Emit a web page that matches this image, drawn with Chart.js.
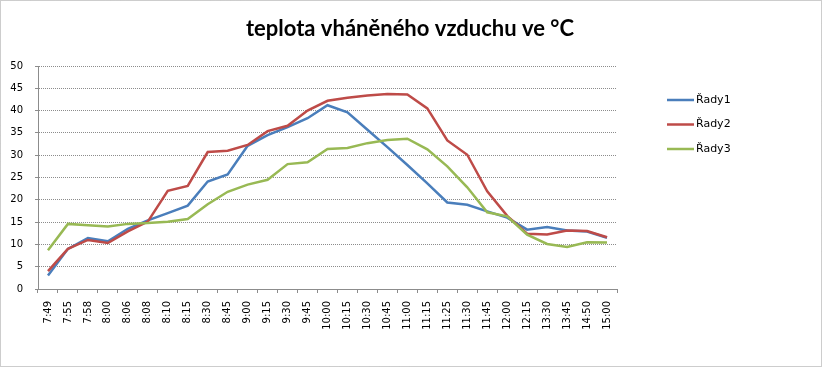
<!DOCTYPE html>
<html>
<head>
<meta charset="utf-8">
<script src="https://cdn.jsdelivr.net/npm/chart.js@4/dist/chart.umd.min.js"></script>
<style>
  html, body { margin: 0; padding: 0; background: #fff; }
  canvas { display: block; }
</style>
</head>
<body>
<canvas id="graf" width="822" height="367"></canvas>
<script>
const casy = ['7:49', '7:55', '7:58', '8:00', '8:06', '8:08', '8:10', '8:15', '8:30', '8:45',
    '9:00', '9:15', '9:30', '9:45', '10:00', '10:15', '10:30', '10:45', '11:00', '11:15',
    '11:25', '11:30', '11:45', '12:00', '12:15', '13:30', '13:45', '14:50', '15:00'];

const rady1 = [3.0, 9.0, 11.4, 10.7, 13.5, 15.4, 17.0, 18.7, 24.1, 25.7,
    32.1, 34.5, 36.3, 38.3, 41.2, 39.6, 35.7, 31.8, 27.8, 23.7,
    19.4, 18.9, 17.4, 16.0, 13.3, 13.9, 13.1, 12.9, 11.5];
const rady2 = [4.0, 9.0, 11.0, 10.3, 12.9, 15.1, 22.0, 23.1, 30.7, 31.0,
    32.3, 35.4, 36.6, 40.0, 42.2, 42.9, 43.4, 43.7, 43.6, 40.5,
    33.3, 30.1, 21.9, 16.4, 12.4, 12.2, 13.1, 13.0, 11.6];
const rady3 = [8.7, 14.6, 14.3, 14.0, 14.6, 14.8, 15.1, 15.7, 19.0, 21.8,
    23.4, 24.5, 28.0, 28.4, 31.4, 31.6, 32.7, 33.4, 33.7, 31.3,
    27.5, 22.8, 17.2, 16.3, 12.2, 10.1, 9.4, 10.5, 10.4];

const nazvy = ['Řady1', 'Řady2', 'Řady3'];
const barvy = ['#4a7ebb', '#be4b48', '#98b954'];
const nadpis = 'teplota vháněného vzduchu ve °C';

// ramecek, nadpis a legenda vpravo mimo graf
const dekorace = {
    id: 'dekorace',
    afterDraw(chart) {
        const c = chart.ctx;
        c.save();
        c.strokeStyle = '#9a9a9a';
        c.lineWidth = 1;
        c.setLineDash([1, 1]);
        c.strokeRect(0.5, 0.5, 821, 366);
        c.setLineDash([]);

        c.fillStyle = '#000';
        c.font = 'bold 22px Lato';
        c.textAlign = 'center';
        c.textBaseline = 'middle';
        c.fillText(nadpis, 410, 29);

        c.font = '11px "DejaVu Sans"';
        c.textAlign = 'left';
        chart.data.datasets.forEach((ds, i) => {
            const y = 100 + i * 24.5;
            c.strokeStyle = ds.borderColor;
            c.lineWidth = 2.5;
            c.beginPath();
            c.moveTo(667, y);
            c.lineTo(694, y);
            c.stroke();
            c.fillStyle = '#000';
            c.fillText(ds.label, 696, y);
        });
        c.restore();
    }
};

new Chart(document.getElementById('graf'), {
    type: 'line',
    data: {
        labels: casy,
        datasets: [rady1, rady2, rady3].map((d, i) => ({
            label: nazvy[i],
            data: d,
            borderColor: barvy[i],
            backgroundColor: barvy[i],
            borderWidth: 2.5,
            pointRadius: 0,
            tension: 0,
            order: 2 - i
        }))
    },
    options: {
        responsive: false,
        animation: false,
        layout: { padding: { top: 66, right: 205, bottom: 0, left: 0 } },
        plugins: {
            legend: { display: false },
            title: { display: false },
            tooltip: { enabled: false }
        },
        scales: {
            x: {
                offset: true,
                grid: { offset: true, drawOnChartArea: false, tickLength: 4, color: '#8c8c8c' },
                border: { color: '#8c8c8c' },
                ticks: {
                    autoSkip: false, minRotation: 90, maxRotation: 90, padding: 8,
                    color: '#000', font: { family: 'DejaVu Sans', size: 10 }
                },
                afterFit(scale) { scale.height = 78; }
            },
            y: {
                min: 0,
                max: 50,
                ticks: {
                    stepSize: 5, padding: 12,
                    color: '#000', font: { family: 'DejaVu Sans', size: 10 }
                },
                grid: { color: '#8c8c8c', tickLength: 3 },
                border: { color: '#8c8c8c', dash: [1, 1] },
                afterFit(scale) { scale.width = 38; }
            }
        }
    },
    plugins: [dekorace]
});
</script>
</body>
</html>
